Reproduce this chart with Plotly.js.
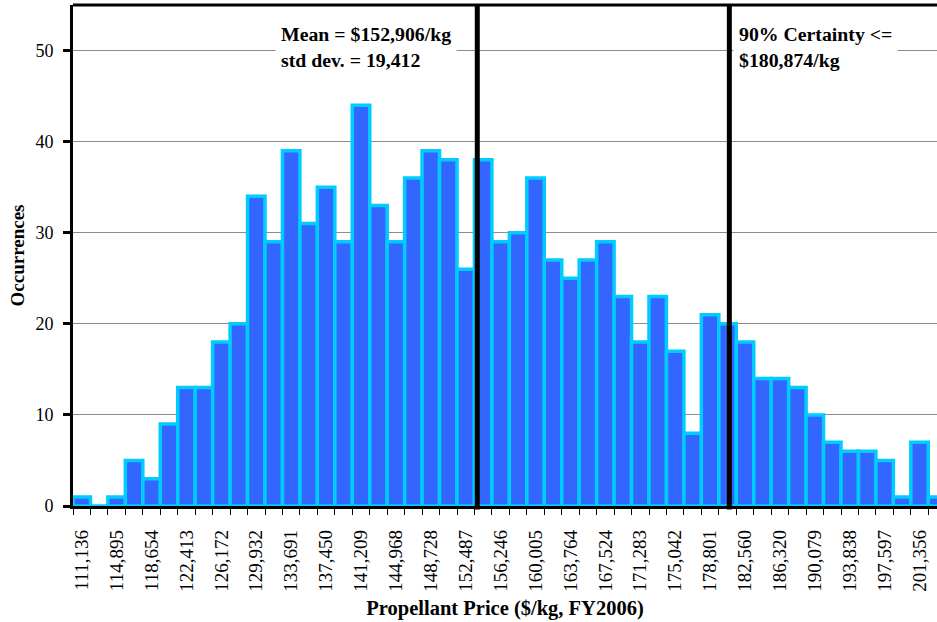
<!DOCTYPE html>
<html>
<head>
<meta charset="utf-8">
<script src="https://cdn.plot.ly/plotly-3.0.1.min.js"></script>
<style>html,body{margin:0;padding:0;background:#fff;}#chart{width:937px;height:622px;}</style>
</head>
<body>
<div id="chart"></div>
<script>
// Bin-centre labels shown on the axis (every second bin)
const tickLabels = ["111,136","114,895","118,654","122,413","126,172","129,932","133,691","137,450",
  "141,209","144,968","148,728","152,487","156,246","160,005","163,764","167,524","171,283",
  "175,042","178,801","182,560","186,320","190,079","193,838","197,597","201,356"];
// Occurrences per bin (50 bins)
const counts = [1,0,1,5,3,9,13,13,18,20,34,29,39,31,35,29,44,33,29,36,39,38,26,38,29,30,36,27,25,27,
  29,23,18,23,17,8,21,20,18,14,14,13,10,7,6,6,5,1,7,1];
// Vertical marker lines as drawn in the picture ($/kg)
const markerLineX = [153730, 180874];
const annotationTexts = ["Mean = $152,906/kg<br>std dev. = 19,412", "90% Certainty <=<br>$180,874/kg"];

const tickVals = tickLabels.map(s => Number(s.replace(/,/g, "")));
const binWidth = (tickVals[tickVals.length - 1] - tickVals[0]) / ((tickVals.length - 1) * 2);
const centers = counts.map((_, i) => tickVals[0] + i * binWidth);
const firstEdge = tickVals[0] - binWidth / 2;

const serif = "Liberation Serif, Times New Roman, serif";

const trace = {
  type: "bar",
  x: centers,
  y: counts,
  width: binWidth,
  marker: {color: "#3366FF", line: {color: "#00CCFF", width: 3.5}},
  hoverinfo: "skip"
};

const layout = {
  width: 937, height: 622,
  margin: {l: 73, r: 0, t: 5, b: 116},
  paper_bgcolor: "#fff", plot_bgcolor: "#fff",
  showlegend: false,
  bargap: 0,
  xaxis: {
    range: [firstEdge, centers[centers.length - 1]],
    tickmode: "array", tickvals: tickVals, ticktext: tickLabels,
    tickangle: -90, ticks: "", ticklabelstandoff: 14,
    tickfont: {family: serif, size: 19, color: "#000"},
    showgrid: false, zeroline: false,
    showline: true, linecolor: "#000", linewidth: 2.5,
    minor: {tick0: firstEdge, dtick: binWidth, ticks: "outside", ticklen: 6, tickwidth: 1, tickcolor: "#000", showgrid: false},
    title: {text: "<b>Propellant Price ($/kg, FY2006)</b>", font: {family: serif, size: 20.5, color: "#000"}, standoff: 10}
  },
  yaxis: {
    range: [0, 55], tickmode: "linear", tick0: 0, dtick: 10,
    ticks: "outside", ticklen: 7, tickwidth: 3, tickcolor: "#000",
    ticklabelstandoff: 6,
    tickfont: {family: serif, size: 18, color: "#000"},
    showgrid: true, gridcolor: "#8c8c8c", gridwidth: 1,
    zeroline: false, showline: true, linecolor: "#000", linewidth: 3,
    title: {text: "<b>Occurrences</b>", font: {family: serif, size: 19, color: "#000"}, standoff: 6}
  },
  shapes: [
    {type: "line", xref: "paper", yref: "paper", x0: 0, x1: 1, y0: 1, y1: 1, line: {color: "#000", width: 3}},
    ...markerLineX.map(v => ({type: "line", xref: "x", yref: "paper", x0: v, x1: v, y0: -0.007, y1: 1, line: {color: "#000", width: 5}}))
  ],
  annotations: [
    {xref: "paper", yref: "paper", x: (275 - 73) / 864, y: 0.977, xanchor: "left", yanchor: "top", align: "left",
     text: "<b>" + annotationTexts[0] + "</b>", showarrow: false, bgcolor: "#fff", borderpad: 5,
     font: {family: serif, size: 19.8, color: "#000"}},
    {xref: "paper", yref: "paper", x: (733 - 73) / 864, y: 0.977, xanchor: "left", yanchor: "top", align: "left",
     text: "<b>" + annotationTexts[1] + "</b>", showarrow: false, bgcolor: "#fff", borderpad: 5,
     font: {family: serif, size: 19.8, color: "#000"}}
  ]
};

Plotly.newPlot("chart", [trace], layout, {staticPlot: true, displayModeBar: false});
</script>
</body>
</html>
